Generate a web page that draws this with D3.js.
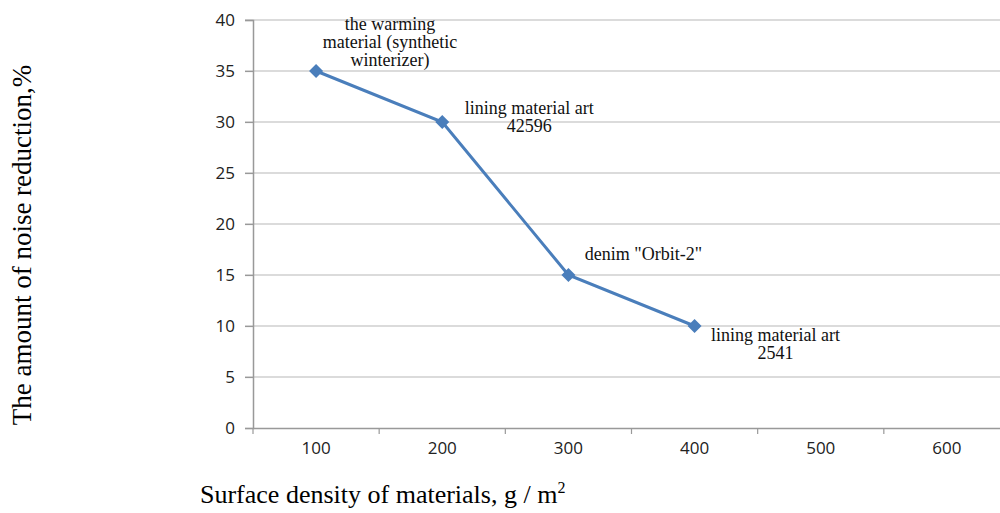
<!DOCTYPE html>
<html lang="en">
<head>
  <meta charset="UTF-8">
  <title>Noise reduction vs surface density</title>
  <script src="https://d3js.org/d3.v7.min.js"></script>
  <style>
    body {
      margin: 0;
      background: #fff;
    }
    #chart {
      display: block;
    }
    .tick-label {
      font-family: "Open Sans", sans-serif;
      font-size: 17px;
      fill: #222;
    }
    .note {
      font-family: "Liberation Serif", serif;
      font-size: 18px;
      fill: #111;
    }
    .title {
      font-family: "Liberation Serif", serif;
      font-size: 26px;
      fill: #000;
    }
  </style>
</head>
<body>
  <svg id="chart" width="1000" height="513"></svg>

  <script>
    // data
    const densities = ["100", "200", "300", "400", "500", "600"];
    const measured = ["100", "200", "300", "400"];
    const reduction = [35, 30, 15, 10];
    const yTicks = [0, 5, 10, 15, 20, 25, 30, 35, 40];
    const materials = [
      ["the warming", "material (synthetic", "winterizer)"],
      ["lining material art", "42596"],
      ["denim \"Orbit-2\""],
      ["lining material art", "2541"]
    ];

    // where each note sits relative to its point (px)
    const noteOffsets = [[74, -41], [87, -8], [75, -15], [81, 15]];

    const svg = d3.select("#chart");

    const x = d3.scaleBand()
      .domain(densities)
      .range([253, 1010])
      .padding(0);

    const y = d3.scaleLinear()
      .domain([0, 40])
      .range([428, 20]);

    const cx = d => x(d) + x.bandwidth() / 2;

    // Grid lines
    svg.append("g")
      .selectAll("line")
      .data(yTicks.filter(t => t > 0))
      .join("line")
      .attr("x1", 245)
      .attr("x2", 1000)
      .attr("y1", d => y(d))
      .attr("y2", d => y(d))
      .attr("stroke", "#b8b8b8")
      .attr("stroke-width", 1.2);

    // Y Axis
    const yAxis = svg.append("g")
      .attr("transform", "translate(253,0)")
      .call(d3.axisLeft(y).tickValues(yTicks).tickSize(8).tickPadding(10));
    yAxis.select(".domain").attr("stroke", "#999").attr("stroke-width", 1.5);
    yAxis.selectAll(".tick line").attr("stroke", "#999").attr("stroke-width", 1.2);
    yAxis.selectAll("text").attr("class", "tick-label").attr("font-size", null).attr("font-family", null);

    // X Axis
    const xAxis = svg.append("g")
      .attr("transform", `translate(0,${y(0)})`)
      .call(d3.axisBottom(x).tickSize(0).tickPadding(14).tickSizeOuter(0));
    xAxis.select(".domain").attr("stroke", "#999").attr("stroke-width", 1.5);
    xAxis.selectAll("text").attr("class", "tick-label").attr("font-size", null).attr("font-family", null);

    // tick marks between the categories
    xAxis.selectAll(".band-tick")
      .data(densities)
      .join("line")
      .attr("class", "band-tick")
      .attr("x1", d => x(d))
      .attr("x2", d => x(d))
      .attr("y1", 0)
      .attr("y2", 6)
      .attr("stroke", "#999")
      .attr("stroke-width", 1.2);

    // Line
    const points = measured.map((d, i) => [cx(d), y(reduction[i])]);

    svg.append("path")
      .datum(points)
      .attr("fill", "none")
      .attr("stroke", "#4a7ebb")
      .attr("stroke-width", 3)
      .attr("d", d3.line());

    svg.append("g")
      .selectAll("path")
      .data(points)
      .join("path")
      .attr("transform", d => `translate(${d[0]},${d[1]})`)
      .attr("d", d3.symbol(d3.symbolDiamond2, 125))
      .attr("fill", "#4a7ebb");

    // Notes
    points.forEach((p, i) => {
      const t = svg.append("text")
        .attr("class", "note")
        .attr("text-anchor", "middle")
        .attr("x", p[0] + noteOffsets[i][0])
        .attr("y", p[1] + noteOffsets[i][1]);
      materials[i].forEach((line, j) => {
        t.append("tspan")
          .attr("x", p[0] + noteOffsets[i][0])
          .attr("dy", j === 0 ? 0 : 18)
          .text(line);
      });
    });

    // Label X Axis
    const xt = svg.append("text")
      .attr("class", "title")
      .attr("x", 200)
      .attr("y", 503)
      .text("Surface density of materials, g / m");
    xt.append("tspan")
      .attr("dy", -10)
      .attr("font-size", "16px")
      .text("2");

    // Label Y Axis
    svg.append("text")
      .attr("class", "title")
      .attr("text-anchor", "middle")
      .attr("transform", "rotate(-90)")
      .attr("x", -245)
      .attr("y", 31)
      .style("font-size", "27px")
      .text("The amount of noise reduction,%");
  </script>
</body>
</html>
